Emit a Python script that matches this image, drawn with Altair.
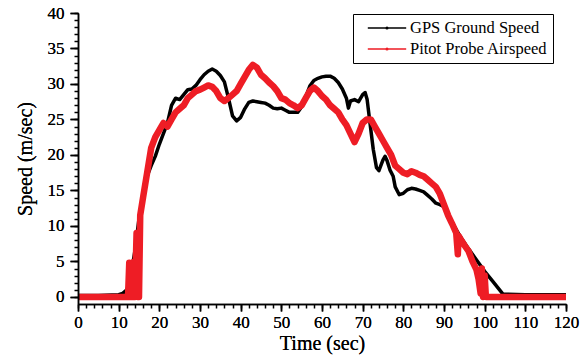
import altair as alt
import pandas as pd

# GPS ground speed
gps_t = [0, 5, 10, 11, 12, 12.5, 13, 14, 15, 16, 17, 18, 19, 20, 21, 22, 23, 24, 25, 26, 27, 28, 29, 30,
         31, 32, 33, 34, 35, 36, 37, 38, 39, 40, 41, 42, 43, 44, 45, 46, 47, 48, 49, 50, 51, 52, 53, 54,
         55, 56, 57, 58, 59, 60, 61, 62, 63, 64, 65, 66, 66.5, 67, 68, 69, 70, 70.6, 71.1, 71.8, 72.6,
         73.4, 74, 75, 75.5, 76, 76.7, 77.5, 78, 79, 80, 81, 82, 83, 84, 85, 86, 87, 88, 89, 90, 92, 94,
         96, 98, 100, 102, 104.5, 110, 120]
gps_v = [0.2, 0.2, 0.3, 0.5, 1.0, 1.8, 3, 6.5, 11, 14.5, 17, 18.5, 19.8, 21.5, 23, 24.5, 27, 28, 27.8,
         28.5, 29.2, 29.3, 29.8, 30.6, 31.3, 31.8, 32.1, 31.8, 31.2, 30.3, 28, 25.5, 24.8, 25.3, 26.5,
         27.4, 27.6, 27.5, 27.4, 27.3, 27, 26.6, 26.5, 26.6, 26.3, 26, 26, 26, 26.8, 28.2, 29.7, 30.5,
         30.8, 31, 31.1, 31.1, 30.8, 30.2, 29.3, 28, 26.6, 27.6, 27.8, 27.5, 28.5, 28.8, 27.8, 24.5,
         20.8, 18.2, 17.8, 19.3, 19.8, 19.2, 17.9, 17, 15.5, 14.4, 14.6, 15.1, 15.3, 15.2, 15, 14.8,
         14.3, 13.8, 13.2, 13, 12.7, 10.5, 8.5, 6.8, 5.2, 3.6, 2.2, 0.4, 0.3, 0.3]

# Pitot probe airspeed
pit_t = [0, 12.3, 12.6, 12.9, 13.5, 13.8, 14.0, 14.4, 14.7, 15.0, 15.3, 16, 17, 18, 19, 20, 21, 22, 23,
         24, 25, 26, 27, 28, 29, 30, 31, 32, 33, 34, 35, 36, 37, 38, 39, 40, 41, 42, 43, 44, 45, 46, 47,
         48, 49, 50, 51, 52, 53, 54, 55, 56, 57, 58, 59, 60, 61, 62, 63, 64, 65, 66, 67, 68, 69, 70, 71,
         72, 73, 74, 75, 76, 77, 78, 79, 80, 81, 82, 83, 84, 85, 86, 87, 88, 89, 90, 91, 92, 93, 93.4,
         93.6, 94, 95, 96, 97, 98, 98.5, 99, 99.3, 99.6, 100, 100.3, 101, 120]
pit_v = [0.0, 0.0, 4.8, 0.0, 0.0, 5, 0, 9, 0, 0, 11.5, 14, 17.5, 21, 22.5, 23.5, 24.5, 24, 25, 26, 26.5,
         27, 28, 28.5, 29, 29.2, 29.5, 29.8, 29.6, 29, 28, 27.6, 28, 28.5, 29, 30, 31, 32, 32.7, 32.3,
         31.3, 30.8, 30.2, 29.7, 29, 28, 27.8, 27.3, 27, 26.6, 27, 28, 29, 29.5, 29, 28.3, 27.8, 27,
         26.5, 26, 25, 24.2, 23, 21.8, 23, 24.5, 25, 25, 24, 23, 22, 21, 20, 18.5, 18, 17.5, 17.3, 17.7,
         17.5, 17.2, 17, 16.5, 16, 15.5, 14.5, 13, 11.5, 10.3, 9, 6, 8.6, 8.2, 7.3, 6.5, 5, 3.8, 2.5,
         0.5, 4, 0, 3, 0, 0, 0]

series_names = ["GPS Ground Speed", "Pitot Probe Airspeed"]
series_colors = ["#000000", "#ee1d25"]

x_major = list(range(0, 121, 10))
x_minor = list(range(0, 121, 2))
y_major = list(range(0, 41, 5))
y_minor = list(range(0, 41, 1))

gps = pd.DataFrame({"t": gps_t, "v": gps_v, "series": series_names[0]})
pit = pd.DataFrame({"t": pit_t, "v": pit_v, "series": series_names[1]})

FONT = "Liberation Serif"
xs = alt.Scale(domain=[0, 120], nice=False, zero=False)
ys = alt.Scale(domain=[-1, 40], nice=False, zero=False)

x_enc = alt.X("t:Q", scale=xs,
              axis=alt.Axis(values=x_major, title="Time (sec)", orient="bottom", tickSize=7,
                            labelFont=FONT, labelFontSize=17, labelColor="black", labelFlush=False,
                            labelOverlap=False, labelPadding=3, titlePadding=3, grid=False, zindex=1))
y_enc = alt.Y("v:Q", scale=ys,
              axis=alt.Axis(values=y_major, title="Speed (m/sec)", orient="left", tickSize=8,
                            labelFont=FONT, labelFontSize=17, labelColor="black", labelFlush=False,
                            labelOverlap=False, labelPadding=6, titlePadding=12, grid=False, zindex=1))
color_enc = alt.Color("series:N",
                      scale=alt.Scale(domain=series_names, range=series_colors),
                      legend=alt.Legend(title=None, orient="none", legendX=275, legendY=1,
                                        symbolType="M-2.4,0H2.4M-0.12,0A0.12,0.12,0,1,0,0.12,0A0.12,0.12,0,1,0,-0.12,0",
                                        symbolSize=256, symbolStrokeWidth=1.3, symbolOffset=20,
                                        labelOffset=14, labelFont=FONT, labelFontSize=16.5,
                                        labelColor="black", rowPadding=3, padding=5,
                                        strokeColor="black", fillColor="white"))

black = alt.Chart(gps).mark_line(strokeWidth=3.5, strokeJoin="round").encode(
    x=x_enc, y=y_enc, color=color_enc)
red = alt.Chart(pit).mark_line(strokeWidth=6.5, strokeJoin="round").encode(
    x=x_enc, y=y_enc, color=color_enc)

minor = alt.Chart(gps).mark_point(opacity=0).encode(
    x=alt.X("t:Q", scale=xs,
            axis=alt.Axis(values=x_minor, title=None, orient="bottom", tickSize=4,
                          labels=False, domain=False, grid=False)),
    y=alt.Y("v:Q", scale=ys,
            axis=alt.Axis(values=y_minor, title=None, orient="left", tickSize=4,
                          labels=False, domain=False, grid=False)),
)

chart = alt.layer(black, red, minor).resolve_axis(x="independent", y="independent").properties(
    width=488, height=291,
    autosize=alt.AutoSizeParams(type="none"),
    padding={"left": 78, "top": 13, "right": 17, "bottom": 54},
    background="white",
).configure_view(stroke=None).configure_axis(
    labelFont=FONT, labelFontSize=17, labelColor="black",
    titleFont=FONT, titleFontSize=20, titleColor="black", titleFontWeight="normal",
    domainColor="black", domainWidth=1.5, tickColor="black", tickWidth=1.5,
)

chart.save("out.html", embed_options={"renderer": "svg", "actions": False})
